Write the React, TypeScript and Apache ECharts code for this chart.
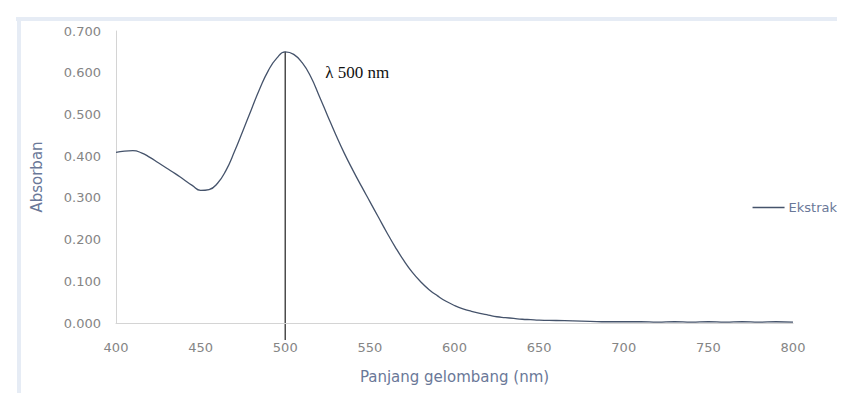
import React, { useEffect, useRef } from "react";
import * as echarts from "echarts";

const wavelengths: number[] = [
  400, 405, 410, 415, 420, 425, 430, 435, 440, 445, 450, 455, 460, 465, 470, 475, 480, 485, 490, 495,
  500, 505, 510, 515, 520, 525, 530, 535, 540, 545, 550, 555, 560, 565, 570, 575, 580, 585, 590, 595,
  600, 605, 610, 615, 620, 625, 630, 635, 640, 645, 650, 660, 670, 680, 690, 700, 710, 720, 730, 740,
  750, 760, 770, 780, 790, 800,
];
const absorbance: number[] = [
  0.409, 0.412, 0.413, 0.408, 0.397, 0.384, 0.371, 0.358, 0.344, 0.330, 0.318, 0.320, 0.335, 0.366, 0.411, 0.461, 0.512, 0.562, 0.605, 0.635,
  0.650, 0.644, 0.624, 0.591, 0.545, 0.497, 0.450, 0.406, 0.366, 0.328, 0.291, 0.254, 0.217, 0.182, 0.150, 0.122, 0.099, 0.080, 0.065, 0.052,
  0.042, 0.034, 0.028, 0.023, 0.019, 0.015, 0.013, 0.011, 0.009, 0.008, 0.007, 0.006, 0.005, 0.004, 0.003, 0.003, 0.003, 0.002, 0.003, 0.002,
  0.003, 0.002, 0.003, 0.002, 0.003, 0.002,
];
const seriesName = "Ekstrak";
const peakWavelength = 500;
const peakValue = 0.65;
const annotation = "λ 500 nm";
const xAxisTitle = "Panjang gelombang (nm)";
const yAxisTitle = "Absorban";

export default function App() {
  const ref = useRef<HTMLDivElement>(null);
  useEffect(() => {
    if (!ref.current) return;
    const chart = echarts.init(ref.current, null, { renderer: "svg" });
    const data = wavelengths.map((w, i) => [w, absorbance[i]]);
    const tickColor = "#858585";
    const nameColor = "#6a7898";
    const frame = [
      { type: "rect", shape: { x: 8, y: 9, width: 837, height: 4 }, style: { fill: "#e6ecf5" }, silent: true },
      { type: "rect", shape: { x: 9, y: 9, width: 4, height: 392 }, style: { fill: "#e6ecf5" }, silent: true },
      { type: "rect", shape: { x: 841, y: 13, width: 2, height: 388 }, style: { fill: "#f1f4f8" }, silent: true },
    ];
    chart.setOption({
      animation: false,
      backgroundColor: "#ffffff",
      textStyle: { fontFamily: "DejaVu Sans" },
      grid: { left: 108, right: 44, top: 23, bottom: 70 },
      legend: {
        data: [{ name: seriesName, icon: "rect" }],
        right: 0,
        top: 193,
        padding: 0,
        itemWidth: 32,
        itemHeight: 1.5,
        itemGap: 4,
        textStyle: { color: nameColor, fontSize: 13, fontFamily: "DejaVu Sans", padding: [0, 0, 0, -1] },
      },
      xAxis: {
        type: "value",
        min: 400,
        max: 800,
        interval: 50,
        name: xAxisTitle,
        nameLocation: "middle",
        nameGap: 46,
        nameTextStyle: { color: nameColor, fontSize: 15, fontFamily: "DejaVu Sans" },
        axisLine: { lineStyle: { color: "#d4d4d4", width: 1 } },
        axisTick: { show: false },
        splitLine: { show: false },
        axisLabel: { color: tickColor, fontSize: 13, margin: 18, fontFamily: "DejaVu Sans" },
      },
      yAxis: {
        type: "value",
        min: 0,
        max: 0.7,
        interval: 0.1,
        name: yAxisTitle,
        nameLocation: "middle",
        nameGap: 72,
        nameTextStyle: { color: nameColor, fontSize: 15, fontFamily: "DejaVu Sans" },
        axisLine: { show: true, lineStyle: { color: "#d4d4d4", width: 1 } },
        axisTick: { show: false },
        splitLine: { show: false },
        axisLabel: {
          color: tickColor,
          fontSize: 13,
          margin: 15,
          fontFamily: "DejaVu Sans",
          formatter: (v: number) => v.toFixed(3),
        },
      },
      series: [
        {
          name: seriesName,
          type: "line",
          data,
          smooth: 0.5,
          showSymbol: false,
          color: "#45536b",
          lineStyle: { color: "#45536b", width: 1.3 },
        },
      ],
      graphic: frame,
    });
    const top = chart.convertToPixel({ gridIndex: 0 }, [peakWavelength, peakValue]) as number[];
    const base = chart.convertToPixel({ gridIndex: 0 }, [peakWavelength, 0]) as number[];
    chart.setOption({
      graphic: [
        ...frame,
        {
          type: "line",
          shape: { x1: top[0], y1: top[1], x2: base[0], y2: base[1] + 17 },
          style: { stroke: "#4d4d4d", lineWidth: 1.5 },
          silent: true,
        },
        {
          type: "text",
          x: top[0] + 40,
          y: top[1] + 21,
          style: {
            text: annotation,
            fill: "#111111",
            font: "17px 'Liberation Serif', serif",
            verticalAlign: "middle",
          },
          silent: true,
        },
      ],
    }, { replaceMerge: ["graphic"] });
    return () => chart.dispose();
  }, []);
  return <div ref={ref} style={{ width: 829, height: 385 }} />;
}
